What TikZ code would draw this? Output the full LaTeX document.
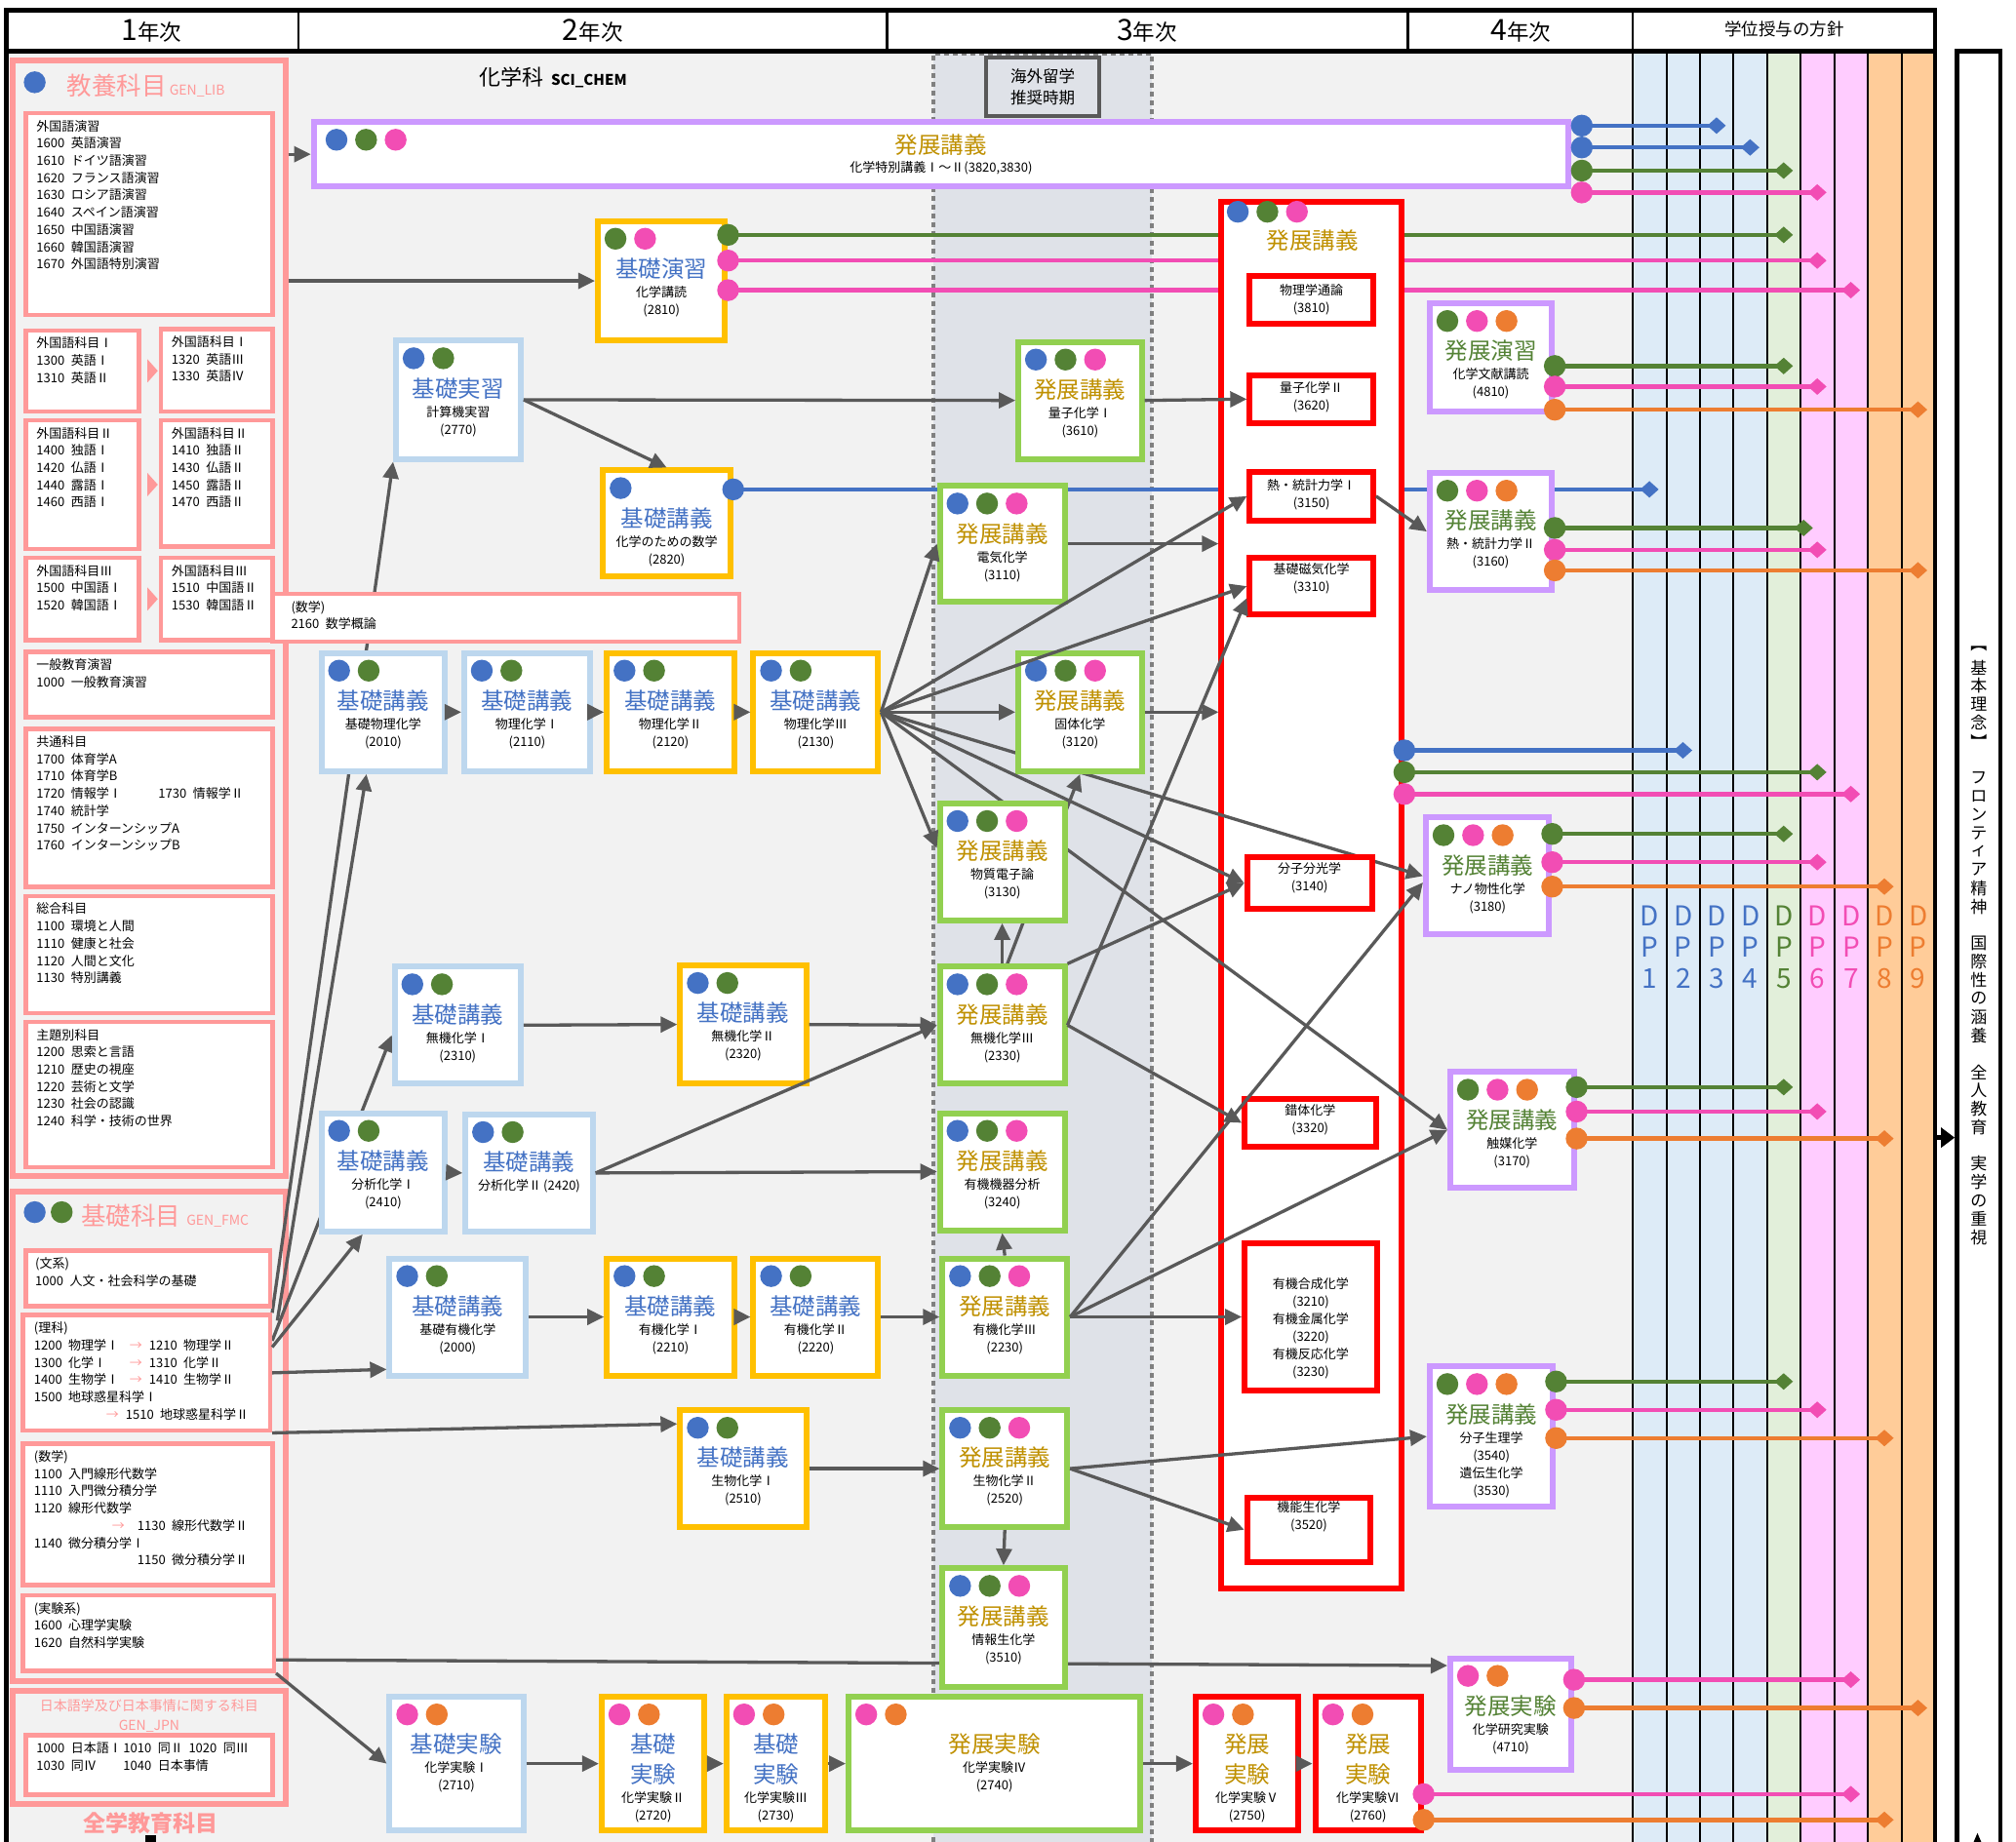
\documentclass[tikz,border=0pt]{standalone}
\usepackage{fontspec}
\setmainfont{Noto Sans CJK JP}
\usetikzlibrary{arrows.meta,calc,fit}

\definecolor{cbg}{HTML}{F2F2F2}
\definecolor{cband}{HTML}{DFE2E8}
\definecolor{cdash}{HTML}{808080}
\definecolor{ccat}{HTML}{FF9999}
\definecolor{bkiso}{HTML}{BDD7EE}
\definecolor{bgold}{HTML}{FFC000}
\definecolor{bgreen}{HTML}{92D050}
\definecolor{bpurple}{HTML}{CC99FF}
\definecolor{bred}{HTML}{FF0000}
\definecolor{tblue}{HTML}{4472C4}
\definecolor{tgold}{HTML}{BF9000}
\definecolor{tgreen}{HTML}{548235}
\definecolor{dblue}{HTML}{4472C4}
\definecolor{dgreen}{HTML}{548235}
\definecolor{dpink}{HTML}{F24DB4}
\definecolor{dorange}{HTML}{ED7D31}
\definecolor{garrow}{HTML}{595959}
\definecolor{cdp1}{HTML}{DDEBF7}
\definecolor{cdp5}{HTML}{E2EFDA}
\definecolor{cdp6}{HTML}{FFCCFF}
\definecolor{cdp8}{HTML}{FFCC99}

\pgfdeclarelayer{back}
\pgfdeclarelayer{dpl}
\pgfdeclarelayer{redl}
\pgfdeclarelayer{wires}
\pgfsetlayers{back,dpl,redl,wires,main}

\tikzset{
  kiso/.style={draw=bkiso, line width=6pt, fill=white, inner sep=0pt},
  kisoy/.style={draw=bgold, line width=6pt, fill=white, inner sep=0pt},
  hatten/.style={draw=bgreen, line width=6pt, fill=white, inner sep=0pt},
  hattenp/.style={draw=bpurple, line width=6pt, fill=white, inner sep=0pt},
  hattenr/.style={draw=bred, line width=6pt, fill=white, inner sep=0pt},
  redin/.style={draw=bred, line width=6pt, fill=white, inner sep=0pt},
  catbox/.style={draw=ccat, line width=6pt, fill=cbg, inner sep=0pt},
  listbox/.style={draw=ccat, line width=4.5pt, fill=white, inner sep=0pt},
  ctitle/.style={font=\fontsize{23.5}{30.5}\selectfont, align=center, inner sep=0pt},
  csub/.style={font=\fontsize{13}{18}\selectfont, align=center, inner sep=0pt},
  ltext/.style={font=\fontsize{13}{17.7}\selectfont, align=left, inner sep=0pt, anchor=north west},
  arr/.style={draw=garrow, line width=3.3pt, -{Triangle[length=17pt,width=16pt]}},
  dpline/.style={line width=4.5pt, -{Diamond[length=19pt,width=17pt]}},
}

\newcommand\parr[1]{\makebox[#1][l]{\textcolor{ccat}{→}}}

% name, box style, title colour, corner, corner, dots, title, text
\newcommand\course[8]{%
  \node[#2, fit={(#4) (#5)}] (#1) {};
  \foreach \dc [count=\i] in {#6}
    \fill[\dc] ($(#1.north west)+(-7+23*\i,16)$) circle [radius=8.5];
  \node[ctitle, text=#3, anchor=north] (#1t) at ($(#1.north)+(0,31)$) {#7};
  \node[csub, anchor=north] (#1s) at ($(#1t.south)+(0,5)$) {#8};
}
\newcommand\listbx[5]{%
  \node[listbox, fit={(#2) (#3)}] (#1) {};
  \node[ltext] (#1x) at ($(#1.north west)+(#4,7)$) {#5};
}
\newcommand\redbx[5]{%
  \node[redin, fit={(#2) (#3)}] (#1) {};
  \node[csub, anchor=north] (#1x) at ($(#1.north)+(0,#4)$) {#5};
}
\newcommand\dpl[3]{%
  \coordinate (p) at (#2);
  \begin{pgfonlayer}{dpl}
    \draw[dpline, #1] (p) -- (p -| #3);
  \end{pgfonlayer}
  \fill[#1] (p) circle [radius=8.5];
}

\begin{document}
\begin{tikzpicture}[x=1.3182pt, y=-1.3182pt]
\useasboundingbox (0,0) rectangle (1568,1432.3);

\begin{pgfonlayer}{back}
  \fill[white] (0,0) rectangle (1568,1432.3);
  \fill[cbg] (5,40) rectangle (1270,1440);
  \fill[cband] (726,42) rectangle (896,1440);
  \draw[cdash, line width=4pt, dash pattern=on 5pt off 4pt] (726,1440) -- (726,42) -- (896,42) -- (896,1440);
  \foreach \k/\c in {1/cdp1,2/cdp1,3/cdp1,4/cdp1,5/cdp5,6/cdp6,7/cdp6,8/cdp8,9/cdp8}
    \fill[\c] (1270+26.11*\k-26.11,40) rectangle (1270+26.11*\k,1440);
  \foreach \k in {0,...,8}
    \draw[line width=2pt] (1270+26.11*\k,40) -- (1270+26.11*\k,1440);
  \node[catbox, fit={(10,47) (222,915)}] (kyo) {};
  \node[catbox, fit={(10,927) (222,1308)}] (kisocat) {};
  \node[catbox, fit={(10,1315) (222,1403)}] (jpncat) {};
  \foreach \x in {232,690,1095,1270}
    \draw[line width=2.2pt] (\x,8) -- (\x,40);
  \draw[line width=4.5pt] (5,1440) -- (5,8) -- (1505,8) -- (1505,1440);
  \draw[line width=4.5pt] (5,40) -- (1505,40);
\end{pgfonlayer}

% header
\node (h1) at (118,24) {\fontsize{30}{30}\selectfont 1\fontsize{22.5}{24}\selectfont 年次};
\node (h2) at (461,24) {\fontsize{30}{30}\selectfont 2\fontsize{22.5}{24}\selectfont 年次};
\node (h3) at (892,24) {\fontsize{30}{30}\selectfont 3\fontsize{22.5}{24}\selectfont 年次};
\node (h4) at (1183,24) {\fontsize{30}{30}\selectfont 4\fontsize{22.5}{24}\selectfont 年次};
\node (h5) at (1388,23) {\fontsize{17.5}{18}\selectfont 学位授与の方針};
\node (chem) at (430,60) {\fontsize{22}{24}\selectfont 化学科\hspace{8pt}\fontsize{15}{16}\selectfont\bfseries SCI\_CHEM};
\node[draw=garrow, line width=4pt, fill=cband, fit={(767,45) (855,90)}, inner sep=0pt] (ryugaku) {};
\node[font=\fontsize{16.5}{21.5}\selectfont, align=center, inner sep=0pt] (ryugakux) at (ryugaku.center) {海外留学\\推奨時期};

% DP
\foreach \k/\c in {1/dblue,2/dblue,3/dblue,4/dblue,5/dgreen,6/dpink,7/dpink,8/dorange,9/dorange}{
  \node[text=\c, font=\fontsize{28}{32}\selectfont, align=center, inner sep=0pt] (dplab\k) at (1270+26.11*\k-13.05,737) {D\\P\\\k};
  \coordinate (dp\k) at (1270+26.11*\k-13.05+7,0);
}
\coordinate (dp5r) at (1410,0);
\node[draw, line width=4.5pt, fill=white, fit={(1522,40) (1556,1440)}, inner sep=0pt] (kihon) {};
\foreach \ch [count=\i] in {︻,基,本,理,念,︼,,フ,ロ,ン,テ,ィ,ア,精,神,,国,際,性,の,涵,養,,全,人,教,育,,実,学,の,重,視}
  \node[font=\fontsize{17}{17}\selectfont, inner sep=0pt] (v\i) at (1539,505+14.3*\i-14.3) {\ch};
\coordinate (dpend) at (1505,885);
\draw[line width=4.5pt, -{Triangle[length=14pt,width=20pt]}] (dpend) -- (kihon.west |- dpend);
\fill (1535,1433) -- (1538,1426) -- (1541,1433) -- cycle;

% 全学教育科目
\fill[dblue] (27,64) circle [radius=8.5];
\node[anchor=base west, inner sep=0pt, text=ccat] (kyot) at (52,74) {\fontsize{25.5}{26}\selectfont 教養科目\hspace{3pt}\fontsize{14}{15}\selectfont GEN\_LIB};
\fill[dblue] (27,943) circle [radius=8.5];
\fill[dgreen] (48,943) circle [radius=8.5];
\node[anchor=base west, inner sep=0pt, text=ccat] (kisocatt) at (63,953) {\fontsize{25.5}{26}\selectfont 基礎科目\hspace{6pt}\fontsize{14}{15}\selectfont GEN\_FMC};
\node[text=ccat, font=\fontsize{14}{20}\selectfont, align=center, inner sep=0pt] (jpncatt) at (116,1335) {日本語学及び日本事情に関する科目\\GEN\_JPN};
\node[text=ccat, font=\fontsize{23}{24}\selectfont\bfseries, inner sep=0pt] (zengaku) at (117,1418) {全学教育科目};
\fill (113,1428) rectangle (121,1436);

\listbx{gaikoku}{20,88}{212,245}{10}{外国語演習\\1600\enspace 英語演習\\1610\enspace ドイツ語演習\\1620\enspace フランス語演習\\1630\enspace ロシア語演習\\1640\enspace スペイン語演習\\1650\enspace 中国語演習\\1660\enspace 韓国語演習\\1670\enspace 外国語特別演習}
\listbx{g1a}{20,257}{108,320}{10}{外国語科目Ⅰ\\1300\enspace 英語Ⅰ\\1310\enspace 英語Ⅱ}
\listbx{g1b}{125,256}{212,320}{10}{外国語科目Ⅰ\\1320\enspace 英語Ⅲ\\1330\enspace 英語Ⅳ}
\listbx{g2a}{20,327}{108,427}{10}{外国語科目Ⅱ\\1400\enspace 独語Ⅰ\\1420\enspace 仏語Ⅰ\\1440\enspace 露語Ⅰ\\1460\enspace 西語Ⅰ}
\listbx{g2b}{125,327}{212,425}{10}{外国語科目Ⅱ\\1410\enspace 独語Ⅱ\\1430\enspace 仏語Ⅱ\\1450\enspace 露語Ⅱ\\1470\enspace 西語Ⅱ}
\listbx{g3a}{20,434}{108,498}{10}{外国語科目Ⅲ\\1500\enspace 中国語Ⅰ\\1520\enspace 韓国語Ⅰ}
\listbx{g3b}{125,434}{212,498}{10}{外国語科目Ⅲ\\1510\enspace 中国語Ⅱ\\1530\enspace 韓国語Ⅱ}
\foreach \a in {g1a,g2a,g3a}
  \fill[ccat] ($(\a.east)+(5,-9)$) -- ++(8,9) -- ++(-8,9) -- cycle;
\listbx{ippan}{20,507}{212,558}{10}{一般教育演習\\1000\enspace 一般教育演習}
\listbx{kyotsu}{20,567}{212,690}{10}{共通科目\\1700\enspace 体育学A\\1710\enspace 体育学B\\\makebox[125pt][l]{1720\enspace 情報学Ⅰ}1730\enspace 情報学Ⅱ\\1740\enspace 統計学\\1750\enspace インターンシップA\\1760\enspace インターンシップB}
\listbx{sogo}{20,697}{212,788}{10}{総合科目\\1100\enspace 環境と人間\\1110\enspace 健康と社会\\1120\enspace 人間と文化\\1130\enspace 特別講義}
\listbx{shudai}{20,795}{212,908}{10}{主題別科目\\1200\enspace 思索と言語\\1210\enspace 歴史の視座\\1220\enspace 芸術と文学\\1230\enspace 社会の認識\\1240\enspace 科学・技術の世界}
\listbx{bunkei}{20,973}{210,1016}{9}{(文系)\\1000\enspace 人文・社会科学の基礎}
\listbx{rika}{18,1023}{210,1113}{10}{(理科)\\\makebox[98pt][l]{1200\enspace 物理学Ⅰ}\parr{20pt}1210\enspace 物理学Ⅱ\\\makebox[98pt][l]{1300\enspace 化学Ⅰ}\parr{20pt}1310\enspace 化学Ⅱ\\\makebox[98pt][l]{1400\enspace 生物学Ⅰ}\parr{20pt}1410\enspace 生物学Ⅱ\\1500\enspace 地球惑星科学Ⅰ\\\hspace*{74pt}\parr{20pt}1510\enspace 地球惑星科学Ⅱ}
\listbx{sugaku}{18,1123}{212,1233}{10}{(数学)\\1100\enspace 入門線形代数学\\1110\enspace 入門微分積分学\\1120\enspace 線形代数学\\\hspace*{80pt}\parr{26pt}1130\enspace 線形代数学Ⅱ\\1140\enspace 微分積分学Ⅰ\\\hspace*{106pt}1150\enspace 微分積分学Ⅱ}
\listbx{jikken}{18,1241}{213,1300}{10}{(実験系)\\1600\enspace 心理学実験\\1620\enspace 自然科学実験}
\listbx{jpn}{20,1350}{212,1396}{10}{\makebox[89pt][l]{1000\enspace 日本語Ⅰ}\makebox[67pt][l]{1010\enspace 同Ⅱ}1020\enspace 同Ⅲ\\\makebox[89pt][l]{1030\enspace 同Ⅳ}1040\enspace 日本事情}
\listbx{sug2160}{212,462}{575,499}{16}{(数学)\\2160\enspace 数学概論}

% 化学科の科目
\node[hattenp, fit={(244,95) (1220,145)}] (kw) {};
\foreach \dc [count=\i] in {dblue,dgreen,dpink}
  \fill[\dc] ($(kw.north west)+(-3+23*\i,16)$) circle [radius=8.5];
\node[ctitle, text=tgold] (kwt) at (732,113) {発展講義};
\node[csub] (kws) at (732,131) {化学特別講義Ⅰ～Ⅱ(3820,3830)};

\begin{pgfonlayer}{redl}
  \node[hattenr, fit={(950,157) (1090,1236)}] (red) {};
\end{pgfonlayer}
\foreach \dc [count=\i] in {dblue,dgreen,dpink}
  \fill[\dc] ($(red.north west)+(-8+23*\i,10)$) circle [radius=8.5];
\node[ctitle, text=tgold] (redt) at (1021,187) {発展講義};
\redbx{r3810}{972,215}{1068,252}{8}{物理学通論\\(3810)}
\redbx{r3620}{972,292}{1068,329}{7}{量子化学Ⅱ\\(3620)}
\redbx{r3150}{972,367}{1068,405}{8}{熱・統計力学Ⅰ\\(3150)}
\redbx{r3310}{972,434}{1068,478}{6}{基礎磁気化学\\(3310)}
\redbx{r3140}{970,667}{1067,707}{6}{分子分光学\\(3140)}
\redbx{r3320}{968,855}{1070,892}{6}{錯体化学\\(3320)}
\redbx{rorg}{968,967}{1071,1082}{29}{有機合成化学\\(3210)\\有機金属化学\\(3220)\\有機反応化学\\(3230)}
\redbx{r3520}{970,1165}{1066,1215}{5}{機能生化学\\(3520)}

\course{k2810}{kisoy}{tblue}{465,172}{564,265}{dgreen,dpink}{基礎演習}{化学講読\\(2810)}
\course{k2770}{kiso}{tblue}{308,265}{405,357}{dblue,dgreen}{基礎実習}{計算機実習\\(2770)}
\course{k2820}{kisoy}{tblue}{469,366}{568,448}{dblue}{基礎講義}{化学のための数学\\(2820)}
\course{k3610}{hatten}{tgold}{792,266}{888,357}{dblue,dgreen,dpink}{発展講義}{量子化学Ⅰ\\(3610)}
\course{k3110}{hatten}{tgold}{731,378}{828,468}{dblue,dgreen,dpink}{発展講義}{電気化学\\(3110)}
\course{k4810}{hattenp}{tgreen}{1112,236}{1207,320}{dgreen,dpink,dorange}{発展演習}{化学文献講読\\(4810)}
\course{k3160}{hattenp}{tgreen}{1112,368}{1207,459}{dgreen,dpink,dorange}{発展講義}{熱・統計力学Ⅱ\\(3160)}
\course{k2010}{kiso}{tblue}{250,508}{346,600}{dblue,dgreen}{基礎講義}{基礎物理化学\\(2010)}
\course{k2110}{kiso}{tblue}{361,508}{459,600}{dblue,dgreen}{基礎講義}{物理化学Ⅰ\\(2110)}
\course{k2120}{kisoy}{tblue}{472,508}{571,600}{dblue,dgreen}{基礎講義}{物理化学Ⅱ\\(2120)}
\course{k2130}{kisoy}{tblue}{586,508}{683,600}{dblue,dgreen}{基礎講義}{物理化学Ⅲ\\(2130)}
\course{k3120}{hatten}{tgold}{792,508}{888,600}{dblue,dgreen,dpink}{発展講義}{固体化学\\(3120)}
\course{k3130}{hatten}{tgold}{731,625}{828,716}{dblue,dgreen,dpink}{発展講義}{物質電子論\\(3130)}
\course{k3180}{hattenp}{tgreen}{1109,636}{1205,727}{dgreen,dpink,dorange}{発展講義}{ナノ物性化学\\(3180)}
\course{k3170}{hattenp}{tgreen}{1128,834}{1224,924}{dgreen,dpink,dorange}{発展講義}{触媒化学\\(3170)}
\course{k2310}{kiso}{tblue}{307,752}{405,843}{dblue,dgreen}{基礎講義}{無機化学Ⅰ\\(2310)}
\course{k2320}{kisoy}{tblue}{529,751}{627,843}{dblue,dgreen}{基礎講義}{無機化学Ⅱ\\(2320)}
\course{k2330}{hatten}{tgold}{731,752}{828,843}{dblue,dgreen,dpink}{発展講義}{無機化学Ⅲ\\(2330)}
\course{k2410}{kiso}{tblue}{250,866}{346,958}{dblue,dgreen}{基礎講義}{分析化学Ⅰ\\(2410)}
\course{k2420}{kiso}{tblue}{362,867}{461,958}{dblue,dgreen}{基礎講義}{分析化学Ⅱ\,(2420)}
\course{k3240}{hatten}{tgold}{731,866}{828,957}{dblue,dgreen,dpink}{発展講義}{有機機器分析\\(3240)}
\course{k2000}{kiso}{tblue}{303,979}{409,1070}{dblue,dgreen}{基礎講義}{基礎有機化学\\(2000)}
\course{k2210}{kisoy}{tblue}{472,979}{571,1070}{dblue,dgreen}{基礎講義}{有機化学Ⅰ\\(2210)}
\course{k2220}{kisoy}{tblue}{586,979}{683,1070}{dblue,dgreen}{基礎講義}{有機化学Ⅱ\\(2220)}
\course{k2230}{hatten}{tgold}{733,979}{830,1070}{dblue,dgreen,dpink}{発展講義}{有機化学Ⅲ\\(2230)}
\course{k2510}{kisoy}{tblue}{529,1097}{627,1188}{dblue,dgreen}{基礎講義}{生物化学Ⅰ\\(2510)}
\course{k2520}{hatten}{tgold}{733,1097}{830,1188}{dblue,dgreen,dpink}{発展講義}{生物化学Ⅱ\\(2520)}
\course{k3510}{hatten}{tgold}{733,1220}{828,1312}{dblue,dgreen,dpink}{発展講義}{情報生化学\\(3510)}
\course{k3540}{hattenp}{tgreen}{1112,1063}{1208,1172}{dgreen,dpink,dorange}{発展講義}{分子生理学\\(3540)\\遺伝生化学\\(3530)}
\course{k4710}{hattenp}{tgreen}{1128,1290}{1222,1377}{dpink,dorange}{発展実験}{化学研究実験\\(4710)}
\course{k2710}{kiso}{tblue}{303,1320}{407,1424}{dpink,dorange}{基礎実験}{化学実験Ⅰ\\(2710)}
\course{k2720}{kisoy}{tblue}{468,1320}{548,1424}{dpink,dorange}{基礎\\実験}{化学実験Ⅱ\\(2720)}
\course{k2730}{kisoy}{tblue}{565,1320}{642,1424}{dpink,dorange}{基礎\\実験}{化学実験Ⅲ\\(2730)}
\course{k2740}{hatten}{tgold}{660,1320}{887,1424}{dpink,dorange}{発展実験}{化学実験Ⅳ\\(2740)}
\course{k2750}{hattenr}{tgold}{930,1320}{1010,1424}{dpink,dorange}{発展\\実験}{化学実験Ⅴ\\(2750)}
\course{k2760}{hattenr}{tgold}{1023,1320}{1105,1424}{dpink,dorange}{発展\\実験}{化学実験Ⅵ\\(2760)}

% arrows running under boxes
\begin{pgfonlayer}{wires}
  \draw[arr] (rika.north east) -- (k2770.south west);
  \draw[arr] ($(rika.east)+(0,-25)$) -- ($(k2310.south west)+(0,-40)$);
  \draw[arr] (k2130.east) -- (k3180.west);
  \draw[arr] (k2130.east) -- (k3170.west);
  \draw[arr] ($(k2330.north)+(4,0)$) -- (k3120.south);
  \draw[arr] ($(jikken.north east)+(0,52)$) -- ($(k4710.north west)+(0,8)$);
\end{pgfonlayer}

\draw[arr] (kyo.east |- kw.west) -- (kw.west);
\draw[arr] (kyo.east |- k2810.west) -- (k2810.west);
\draw[arr] ($(rika.north east)+(4,6)$) -- ($(k2010.south)+(-13,0)$);
\draw[arr] ($(rika.east)+(0,-20)$) -- ($(k2410.south)+(-16,0)$);
\draw[arr] (rika.east) -- ($(k2000.south west)+(0,-7)$);
\draw[arr] (rika.south east) -- ($(k2510.north west)+(0,13)$);
\draw[arr] (jikken.south east) -- (k2710.west);
\draw[arr] (k2770.east) -- (k3610.west);
\draw[arr] (k2770.east) -- (k2820.north);
\foreach \a/\b in {k2010/k2110,k2110/k2120,k2120/k2130,k2310/k2320,k2320/k2330,k2410/k2420,k2420/k3240,k2420/k2330,
    k2000/k2210,k2210/k2220,k2220/k2230,k2230/rorg,k2510/k2520,k2520/k3540,k2520/r3520,
    k2710/k2720,k2720/k2730,k2730/k2740,k2740/k2750,k2750/k2760,k3610/r3620,r3150/k3160,
    k2130/k3110,k2130/r3150,k2130/r3310,k2130/k3120,k2130/r3140,k2330/r3320,k2230/k3170}
  \draw[arr] (\a.east) -- (\b.west);
\draw[arr] (k2130.east) -- ($(k3130.north west)+(0,37)$);
\draw[arr] (k3120.east) -- (red.west |- k3120.east);
\draw[arr] (k3110.east) -- (red.west |- k3110.east);
\draw[arr] (k2330.north) -- (k3130.south);
\draw[arr] (k2330.north east) -- (r3140.west);
\draw[arr] (k2330.east) -- ($(r3310.south west)+(0,-15)$);
\draw[arr] (k2230.north) -- (k3240.south);
\draw[arr] (k2230.east) -- ($(k3180.west)+(0,5)$);
\draw[arr] (k2520.south) -- (k3510.north);

% lines to the DP columns
\dpl{dblue}{$(kw.north east)+(8,5)$}{dp3}
\dpl{dblue}{$(kw.north east)+(8,22)$}{dp4}
\dpl{dgreen}{$(kw.north east)+(8,40)$}{dp5}
\dpl{dpink}{$(kw.north east)+(8,57)$}{dp6}
\dpl{dgreen}{$(k2810.north east)+(0,13)$}{dp5}
\dpl{dpink}{$(k2810.north east)+(0,33)$}{dp6}
\dpl{dpink}{$(k2810.north east)+(0,56)$}{dp7}
\dpl{dblue}{$(k2820.north east)+(0,17)$}{dp1}
\dpl{dblue}{$(red.north east)+(0,429)$}{dp2}
\dpl{dgreen}{$(red.north east)+(0,446)$}{dp6}
\dpl{dpink}{$(red.north east)+(0,463)$}{dp7}
\dpl{dgreen}{$(k4810.north east)+(0,51)$}{dp5}
\dpl{dpink}{$(k4810.north east)+(0,67)$}{dp6}
\dpl{dorange}{$(k4810.north east)+(0,85)$}{dp9}
\dpl{dgreen}{$(k3160.north east)+(0,45)$}{dp5r}
\dpl{dpink}{$(k3160.north east)+(0,62)$}{dp6}
\dpl{dorange}{$(k3160.north east)+(0,78)$}{dp9}
\dpl{dgreen}{$(k3180.north east)+(0,15)$}{dp5}
\dpl{dpink}{$(k3180.north east)+(0,37)$}{dp6}
\dpl{dorange}{$(k3180.north east)+(0,56)$}{dp8}
\dpl{dgreen}{$(k3170.north east)+(0,14)$}{dp5}
\dpl{dpink}{$(k3170.north east)+(0,33)$}{dp6}
\dpl{dorange}{$(k3170.north east)+(0,54)$}{dp8}
\dpl{dgreen}{$(k3540.north east)+(0,14)$}{dp5}
\dpl{dpink}{$(k3540.north east)+(0,36)$}{dp6}
\dpl{dorange}{$(k3540.north east)+(0,58)$}{dp8}
\dpl{dpink}{$(k4710.north east)+(0,19)$}{dp7}
\dpl{dorange}{$(k4710.north east)+(0,41)$}{dp9}
\dpl{dpink}{$(k2760.north east)+(0,78)$}{dp7}
\dpl{dorange}{$(k2760.north east)+(0,98)$}{dp8}

\end{tikzpicture}
\end{document}
